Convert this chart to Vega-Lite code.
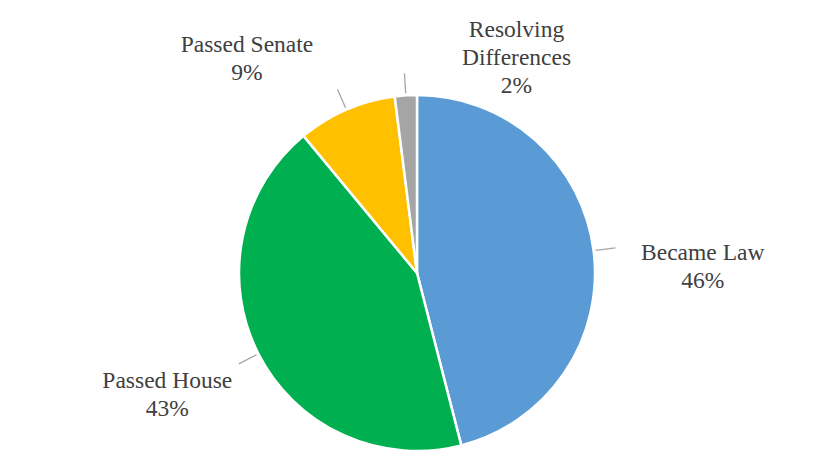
{
  "$schema": "https://vega.github.io/schema/vega-lite/v6.json",
  "width": 826,
  "height": 386,
  "autosize": {"type": "none"},
  "padding": {"left": 4, "top": 80, "right": 0, "bottom": 0},
  "background": "white",
  "config": {"view": {"stroke": null}, "text": {"font": "Liberation Serif"}},
  "data": {
    "values": [
      {"cat": "Became Law", "value": 46, "idx": 1, "label": "Became Law\n46%"},
      {"cat": "Passed House", "value": 43, "idx": 2, "label": "Passed House\n43%"},
      {"cat": "Passed Senate", "value": 9, "idx": 3, "label": "Passed Senate\n9%"},
      {"cat": "Resolving Differences", "value": 2, "idx": 4, "label": "Resolving\nDifferences\n2%"}
    ]
  },
  "encoding": {
    "theta": {"field": "value", "type": "quantitative", "stack": true},
    "order": {"field": "idx", "type": "quantitative"},
    "detail": {"field": "cat", "type": "nominal"}
  },
  "layer": [
    {
      "mark": {"type": "arc", "outerRadius": 178, "stroke": "white", "strokeWidth": 2.5},
      "encoding": {
        "color": {
          "field": "cat",
          "type": "nominal",
          "scale": {
            "domain": ["Became Law", "Passed House", "Passed Senate", "Resolving Differences"],
            "range": ["#5B9BD5", "#00B050", "#FFC000", "#A5A5A5"]
          },
          "legend": null
        }
      }
    },
    {
      "mark": {"type": "arc", "filled": false, "padAngle": 3, "radius2": 180, "stroke": "#A6A6A6", "strokeWidth": 1.3},
      "encoding": {
        "radius": {
          "condition": [
            {"test": "datum.cat === 'Became Law'", "value": 210},
            {"test": "datum.cat === 'Passed House'", "value": 205},
            {"test": "datum.cat === 'Passed Senate'", "value": 235}
          ],
          "value": 200
        }
      }
    },
    {
      "mark": {"type": "text", "radius": 286, "dx": 2, "dy": 16, "align": "center", "baseline": "middle", "lineBreak": "\n", "font": "Liberation Serif", "fontSize": 23.5, "lineHeight": 28, "fill": "#404040"},
      "encoding": {"text": {"condition": {"test": "datum.cat === 'Became Law'", "field": "label", "type": "nominal"}, "value": ""}}
    },
    {
      "mark": {"type": "text", "radius": 278, "dx": -2, "dy": -18, "align": "center", "baseline": "middle", "lineBreak": "\n", "font": "Liberation Serif", "fontSize": 23.5, "lineHeight": 28, "fill": "#404040"},
      "encoding": {"text": {"condition": {"test": "datum.cat === 'Passed House'", "field": "label", "type": "nominal"}, "value": ""}}
    },
    {
      "mark": {"type": "text", "radius": 233, "dx": -77.5, "dy": -14, "align": "center", "baseline": "middle", "lineBreak": "\n", "font": "Liberation Serif", "fontSize": 23.5, "lineHeight": 28, "fill": "#404040"},
      "encoding": {"text": {"condition": {"test": "datum.cat === 'Passed Senate'", "field": "label", "type": "nominal"}, "value": ""}}
    },
    {
      "mark": {"type": "text", "radius": 215, "dx": 113, "dy": -28, "align": "center", "baseline": "middle", "lineBreak": "\n", "font": "Liberation Serif", "fontSize": 23.5, "lineHeight": 28, "fill": "#404040"},
      "encoding": {"text": {"condition": {"test": "datum.cat === 'Resolving Differences'", "field": "label", "type": "nominal"}, "value": ""}}
    }
  ]
}
